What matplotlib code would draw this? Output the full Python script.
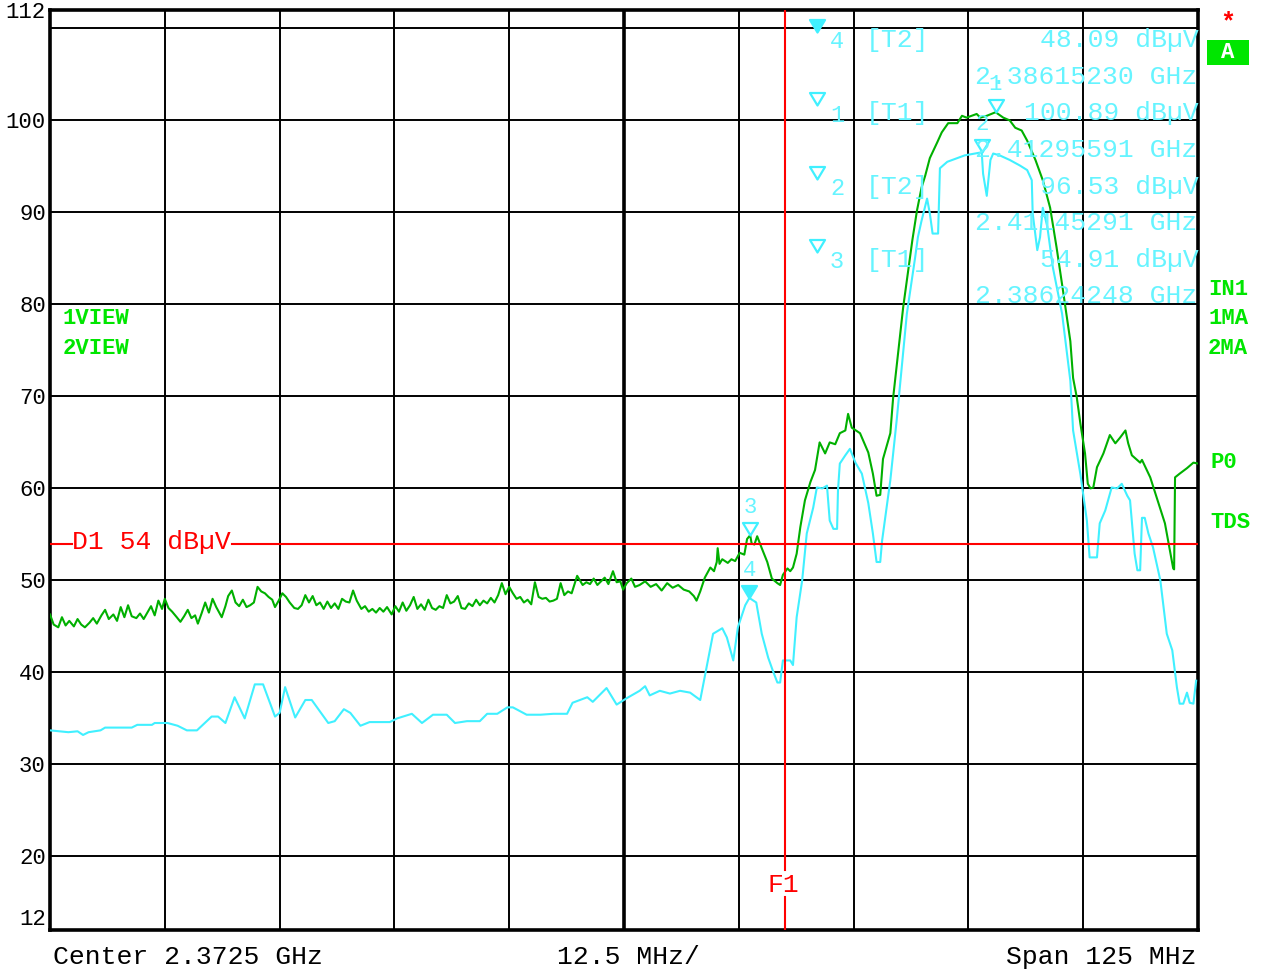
import numpy as np
import matplotlib.pyplot as plt
from matplotlib.path import Path
from matplotlib.patches import Rectangle

W, H = 1261, 972

CENTER_MHZ = 2372.5
SPAN_MHZ = 125.0
REF_TOP = 112
REF_BOTTOM = 12
D1_LEVEL = 54
F1_MHZ = 2390.0

# trace 1: max peak (green)
trace1_freq = [
    2310.0, 2310.4, 2310.9, 2311.3, 2311.7, 2312.1, 2312.6, 2313.0, 2313.4, 2313.8,
    2314.3, 2314.7, 2315.1, 2315.6, 2316.0, 2316.4, 2316.9, 2317.3, 2317.7, 2318.1,
    2318.5, 2318.9, 2319.4, 2319.8, 2320.2, 2320.6, 2321.0, 2321.4, 2321.8, 2322.2,
    2322.5, 2322.9, 2323.3, 2323.8, 2324.2, 2324.6, 2325.0, 2325.4, 2325.8, 2326.1,
    2326.5, 2326.9, 2327.3, 2327.7, 2328.1, 2328.7, 2329.1, 2329.4, 2329.8, 2330.2,
    2330.6, 2331.0, 2331.4, 2331.8, 2332.2, 2332.6, 2333.0, 2333.4, 2333.8, 2334.2,
    2334.5, 2334.9, 2335.3, 2335.7, 2336.1, 2336.6, 2337.0, 2337.4, 2337.8, 2338.2,
    2338.6, 2339.0, 2339.4, 2339.8, 2340.2, 2340.6, 2341.0, 2341.4, 2341.8, 2342.2,
    2342.6, 2343.0, 2343.4, 2343.9, 2344.3, 2344.7, 2345.1, 2345.5, 2345.9, 2346.3,
    2346.7, 2347.2, 2347.6, 2348.0, 2348.4, 2348.8, 2349.2, 2349.6, 2350.0, 2350.4,
    2350.8, 2351.2, 2351.6, 2352.0, 2352.4, 2352.8, 2353.2, 2353.6, 2354.0, 2354.4,
    2354.8, 2355.2, 2355.6, 2356.0, 2356.4, 2356.8, 2357.2, 2357.6, 2358.0, 2358.4,
    2358.8, 2359.2, 2359.6, 2360.0, 2360.4, 2360.8, 2361.2, 2361.6, 2362.0, 2362.4,
    2362.8, 2363.2, 2363.6, 2364.0, 2364.4, 2364.8, 2365.2, 2365.6, 2366.0, 2366.4,
    2366.8, 2367.4, 2368.0, 2368.4, 2368.8, 2369.2, 2369.6, 2370.0, 2370.4, 2370.8,
    2371.3, 2371.7, 2372.1, 2372.4, 2372.8, 2373.3, 2373.7,
    2374.2, 2374.8, 2375.4, 2376.0, 2376.6, 2377.2, 2377.8, 2378.4, 2379.0, 2379.6,
    2380.1, 2380.4, 2380.8, 2381.3, 2381.9, 2382.3, 2382.6, 2382.7, 2382.9, 2383.2,
    2383.8, 2384.2, 2384.6, 2385.1, 2385.6, 2385.9, 2386.24, 2386.4, 2386.7, 2387.0,
    2387.5, 2388.1, 2388.6, 2389.2, 2389.5, 2389.8, 2390.3, 2390.6, 2390.9, 2391.3,
    2391.7, 2392.2, 2392.8, 2393.3, 2393.8, 2394.4, 2394.9, 2395.5, 2396.0, 2396.6,
    2396.9, 2397.3, 2398.2, 2399.1, 2399.6, 2400.0, 2400.4, 2400.7, 2401.5, 2401.8,
    2402.9, 2403.9, 2404.4, 2404.9, 2405.3, 2405.8, 2406.6, 2407.1, 2407.8, 2408.8,
    2409.3, 2409.8, 2410.9, 2411.3, 2412.0, 2412.96, 2413.8, 2414.5, 2415.1, 2415.8,
    2416.4, 2417.3, 2418.1, 2418.9, 2419.6, 2420.3, 2421.1, 2421.4, 2421.8, 2422.2,
    2422.7, 2423.0, 2423.3, 2423.6, 2424.0, 2424.7, 2425.4, 2426.0, 2426.5, 2427.1,
    2427.4, 2427.8, 2428.7, 2428.9, 2429.8, 2430.5, 2431.4, 2432.0, 2432.3, 2432.4,
    2432.5, 2433.0, 2433.8, 2434.5, 2435.0,
]
trace1_level = [
    46.3, 45.2, 44.9, 46.0, 45.1, 45.6, 45.0, 45.8, 45.2, 44.9,
    45.4, 45.9, 45.3, 46.2, 46.8, 45.8, 46.3, 45.6, 47.1, 46.0,
    47.3, 46.1, 45.9, 46.4, 45.8, 46.5, 47.2, 46.2, 47.8, 46.9,
    48.0, 47.0, 46.6, 46.0, 45.5, 46.1, 46.8, 45.9, 46.2, 45.3,
    46.4, 47.6, 46.5, 48.0, 47.1, 46.0, 47.2, 48.3, 48.9, 47.6,
    47.2, 47.9, 47.1, 47.3, 47.6, 49.3, 48.8, 48.6, 48.2, 47.9,
    47.1, 47.8, 48.6, 48.2, 47.6, 47.0, 46.9, 47.3, 48.4, 47.6,
    48.3, 47.3, 47.6, 46.9, 47.7, 47.0, 47.5, 46.9, 48.0, 47.7,
    47.6, 48.9, 47.8, 46.9, 47.2, 46.6, 46.9, 46.5, 47.0, 46.6,
    47.1, 46.3, 47.2, 46.6, 47.6, 46.7, 47.3, 48.2, 46.9, 47.4,
    46.8, 47.9, 47.0, 46.8, 47.2, 47.0, 48.4, 47.5, 47.7, 48.3,
    47.0, 46.9, 47.5, 47.2, 47.9, 47.3, 47.8, 47.5, 48.1, 47.6,
    48.4, 49.7, 48.5, 49.3, 48.6, 48.0, 48.2, 47.6, 47.9, 47.4,
    49.8, 48.2, 48.0, 48.1, 47.7, 47.8, 48.0, 49.7, 48.4, 48.8,
    48.6, 50.5, 49.5, 49.8, 49.6, 50.2, 49.5, 49.9, 50.3, 49.6,
    51.0, 49.8, 49.9, 49.0, 49.7, 50.2, 49.3,
    49.5, 49.9, 49.3, 49.6, 48.9, 49.7, 49.2, 49.5, 49.0, 48.8,
    48.3, 47.8, 48.8, 50.3, 51.4, 51.0, 52.0, 53.5, 51.8, 52.3,
    51.9, 52.3, 52.1, 53.0, 52.8, 54.5, 54.91, 54.0, 53.9, 54.8,
    53.5, 52.0, 50.2, 49.7, 49.5, 50.6, 51.3, 51.0, 51.4, 52.9,
    55.8, 58.7, 60.7, 62.0, 65.0, 63.8, 65.0, 64.8, 66.0, 66.3,
    68.1, 66.6, 66.0, 63.9, 61.6, 59.2, 59.3, 63.2, 66.0, 69.8,
    79.7, 87.0, 90.2, 92.7, 94.0, 95.9, 97.6, 98.7, 99.7, 99.7,
    100.5, 100.3, 100.7, 100.3, 100.5, 100.89, 100.3, 100.0, 99.2, 98.9,
    97.8, 95.7, 93.5, 90.5, 86.2, 81.5, 76.0, 72.0, 69.9, 67.0,
    63.8, 60.5, 60.0, 60.1, 62.3, 63.8, 65.8, 64.9, 65.5, 66.3,
    64.9, 63.6, 62.8, 63.1, 61.2, 59.0, 56.2, 52.9, 51.3, 51.2,
    61.2, 61.6, 62.2, 62.8, 62.7,
]

# trace 2: average (cyan)
trace2_freq = [
    2310.0, 2311.0, 2312.0, 2313.0, 2313.6, 2314.2, 2315.5, 2316.0, 2318.9, 2319.5,
    2321.1, 2321.4, 2322.8, 2323.9, 2324.9, 2326.0, 2327.6, 2328.3, 2329.1, 2330.1,
    2331.2, 2332.3, 2333.2, 2334.5, 2335.0, 2335.6, 2336.7, 2337.8, 2338.5, 2340.3,
    2341.0, 2342.0, 2342.7, 2343.8, 2344.8, 2347.0, 2347.8, 2349.4, 2350.5, 2351.7,
    2353.2, 2354.1, 2355.4, 2356.8, 2357.6, 2358.7, 2359.8, 2360.4, 2361.9, 2363.4,
    2364.8, 2366.3, 2366.9, 2368.5, 2369.1, 2370.6, 2371.7, 2372.8, 2374.2, 2374.8,
    2375.3, 2376.4, 2377.5, 2378.6, 2379.7, 2380.8, 2382.2, 2383.2, 2383.7, 2384.4,
    2384.9, 2385.7, 2386.15, 2386.9, 2387.5, 2388.2, 2388.7, 2389.2, 2389.5, 2389.8,
    2390.6, 2390.9, 2391.3, 2391.9, 2392.4, 2393.1, 2393.5, 2394.1, 2394.6, 2394.9,
    2395.3, 2395.7, 2395.8, 2396.0, 2396.6, 2397.1, 2397.7, 2398.4, 2399.1, 2399.6,
    2400.0, 2400.4, 2400.6, 2400.9, 2401.5, 2402.2, 2403.3, 2404.2, 2404.5, 2404.9,
    2405.5, 2405.8, 2406.1, 2406.7, 2406.9, 2407.7, 2408.8, 2409.6, 2410.7, 2411.45,
    2411.6, 2412.0, 2412.4, 2412.7, 2413.4, 2414.5, 2415.6, 2416.4, 2416.9, 2417.0,
    2417.5, 2417.8, 2418.1, 2418.6, 2419.2, 2420.2, 2421.1, 2421.4, 2422.2, 2422.9,
    2423.2, 2424.0, 2424.3, 2424.9, 2425.6, 2426.2, 2426.7, 2427.3, 2427.6, 2428.1,
    2428.4, 2428.7, 2428.9, 2429.2, 2429.6, 2430.1, 2430.9, 2431.6, 2432.2, 2432.7,
    2433.0, 2433.4, 2433.8, 2434.1, 2434.5, 2434.8,
]
trace2_level = [
    33.7, 33.6, 33.5, 33.6, 33.2, 33.5, 33.7, 34.0, 34.0, 34.3,
    34.3, 34.5, 34.5, 34.2, 33.7, 33.7, 35.2, 35.2, 34.5, 37.3,
    35.0, 38.7, 38.7, 35.2, 35.6, 38.4, 35.1, 37.0, 37.0, 34.5,
    34.7, 36.0, 35.6, 34.2, 34.6, 34.6, 35.0, 35.5, 34.5, 35.4,
    35.4, 34.5, 34.7, 34.7, 35.5, 35.5, 36.2, 36.2, 35.4, 35.4,
    35.5, 35.5, 36.7, 37.3, 36.8, 38.3, 36.5, 37.2, 38.0, 38.5,
    37.5, 38.0, 37.7, 38.0, 37.8, 37.0, 44.2, 44.8, 43.8, 41.3,
    44.9, 47.3, 48.09, 47.6, 44.2, 41.6, 40.2, 38.9, 38.9, 41.3,
    41.3, 40.8, 46.0, 50.0, 55.1, 57.9, 60.1, 60.0, 60.3, 56.5,
    55.6, 55.6, 59.8, 62.7, 63.6, 64.3, 62.8, 61.6, 58.4, 55.1,
    52.0, 52.0, 54.3, 56.5, 60.9, 67.5, 79.0, 85.1, 87.3, 89.1,
    91.5, 89.9, 87.7, 87.7, 94.8, 95.5, 95.9, 96.2, 96.4, 96.53,
    94.2, 91.8, 95.7, 96.4, 96.2, 95.7, 95.1, 94.6, 93.5, 89.9,
    85.9, 87.3, 90.5, 88.4, 84.0, 79.0, 71.7, 66.3, 61.5, 56.5,
    52.5, 52.5, 56.2, 57.6, 60.1, 60.0, 60.5, 59.2, 58.7, 52.9,
    51.1, 51.1, 56.8, 56.8, 55.1, 53.6, 50.0, 44.2, 42.4, 38.4,
    36.6, 36.6, 37.8, 36.7, 36.6, 39.1,
]

# marker table, in the order the analyzer lists them
marker_ids = ["4", "1", "2", "3"]
marker_trace = ["T2", "T1", "T2", "T1"]
marker_level = [48.09, 100.89, 96.53, 54.91]
marker_freq_ghz = [2.38615230, 2.41295591, 2.41145291, 2.38624248]

GREEN = "#00b000"
GREEN_TXT = "#00e600"
CYAN = "#40f0ff"
CYAN_TXT = "#66f4ff"
RED = "#ff0000"
MONO = "Liberation Mono"


def fxy(px, py):
    return px / W, 1 - py / H


def main():
    fig = plt.figure(figsize=(W / 100, H / 100), dpi=100)
    ax = fig.add_axes([50 / W, 1 - 930 / H, 1148 / W, 920 / H])

    f0 = CENTER_MHZ - SPAN_MHZ / 2
    f1 = CENTER_MHZ + SPAN_MHZ / 2
    ax.set_xlim(f0, f1)
    ax.set_ylim(REF_BOTTOM, REF_TOP)

    # graticule
    for f in np.linspace(f0, f1, 11)[1:-1]:
        ax.axvline(f, color="black", lw=1.4, zorder=1)
    ax.axvline(CENTER_MHZ, color="black", lw=2.6, zorder=1)
    for lv in range(20, 111, 10):
        ax.axhline(lv, color="black", lw=1.4, zorder=1)

    ax.set_xticks([])
    ax.set_yticks([REF_BOTTOM] + list(range(20, 101, 10)) + [REF_TOP])
    ax.tick_params(axis="y", length=0, pad=3, labelsize=16)
    ylabels = ax.get_yticklabels()
    for lab in ylabels:
        lab.set_fontfamily(MONO)
    ylabels[0].set_verticalalignment("bottom")
    for sp in ax.spines.values():
        sp.set_linewidth(2.6)

    ax.plot(trace1_freq, trace1_level, color=GREEN, lw=1.5, zorder=3)
    ax.plot(trace2_freq, trace2_level, color=CYAN, lw=1.5, zorder=3)

    # display line D1, broken where its label sits
    ax.axhline(D1_LEVEL, xmax=(72 - 50) / 1148, color=RED, lw=1.5, zorder=4)
    ax.axhline(D1_LEVEL, xmin=(232 - 50) / 1148, color=RED, lw=1.5, zorder=4)
    fig.text(*fxy(72, 542), f"D1 {D1_LEVEL} dBµV", color=RED, fontsize=19,
             family=MONO, ha="left", va="center")

    # frequency line F1
    ax.axvline(F1_MHZ, ymin=(930 - 870) / 920, color=RED, lw=1.5, zorder=4)
    ax.axvline(F1_MHZ, ymax=(930 - 897) / 920, color=RED, lw=1.5, zorder=4)
    fig.text(*fxy(783, 885), "F1", color=RED, fontsize=19, family=MONO,
             ha="center", va="center")

    # marker triangles, apex on the trace
    tri = Path([(0, 0), (-0.6, 1), (0.6, 1), (0, 0)],
               [Path.MOVETO, Path.LINETO, Path.LINETO, Path.CLOSEPOLY])
    for i, mid in enumerate(marker_ids):
        fx = marker_freq_ghz[i] * 1000
        lv = marker_level[i]
        filled = (i == 0)
        ax.plot([fx], [lv], marker=tri, markersize=18, ls="none",
                markerfacecolor=CYAN if filled else "none",
                markeredgecolor=CYAN, markeredgewidth=1.6, zorder=5)
        ax.annotate(mid, (fx, lv), xytext=(0, 20), textcoords="offset points",
                    ha="center", va="center", color=CYAN_TXT, fontsize=16,
                    family=MONO, zorder=5)

    # marker table
    for i, mid in enumerate(marker_ids):
        y_val = 40 + i * 73.3
        y_frq = y_val + 36.5
        tx, ty = fxy(817, y_val - 8)
        ax.plot([tx], [ty], marker=tri, markersize=18, ls="none",
                transform=fig.transFigure, clip_on=False,
                markerfacecolor=CYAN if i == 0 else "none",
                markeredgecolor=CYAN, markeredgewidth=1.6)
        fig.text(*fxy(830, y_val + 2), mid, color=CYAN_TXT, fontsize=17,
                 family=MONO, ha="left", va="center")
        fig.text(*fxy(866, y_val), f"[{marker_trace[i]}]", color=CYAN_TXT,
                 fontsize=19, family=MONO, ha="left", va="center")
        fig.text(*fxy(1199, y_val), f"{marker_level[i]:.2f} dBµV", color=CYAN_TXT,
                 fontsize=19, family=MONO, ha="right", va="center")
        fig.text(*fxy(1197, y_frq), f"{marker_freq_ghz[i]:.8f} GHz", color=CYAN_TXT,
                 fontsize=19, family=MONO, ha="right", va="center")

    # side annotations
    for txt, px, py in [("1VIEW", 63, 319), ("2VIEW", 63, 349),
                        ("IN1", 1208, 289), ("1MA", 1208, 319), ("2MA", 1208, 349),
                        ("P0", 1210, 463), ("TDS", 1210, 523)]:
        fig.text(*fxy(px, py), txt, color=GREEN_TXT, fontsize=16, family=MONO,
                 weight="bold", ha="left", va="center")

    fig.text(*fxy(1228, 22), "*", color=RED, fontsize=18, family=MONO,
             weight="bold", ha="center", va="center")
    bx, by = fxy(1207, 65)
    fig.add_artist(Rectangle((bx, by), 42 / W, 25 / H, transform=fig.transFigure,
                             facecolor="#00e600", edgecolor="none"))
    fig.text(*fxy(1228, 52), "A", color="white", fontsize=16, family=MONO,
             weight="bold", ha="center", va="center")

    # bottom annotation line
    fig.text(*fxy(53, 957), f"Center {CENTER_MHZ / 1000:.4f} GHz", fontsize=19,
             family=MONO, ha="left", va="center")
    fig.text(*fxy(557, 957), f"{SPAN_MHZ / 10:.1f} MHz/", fontsize=19,
             family=MONO, ha="left", va="center")
    fig.text(*fxy(1196, 957), f"Span {SPAN_MHZ:.0f} MHz", fontsize=19,
             family=MONO, ha="right", va="center")

    fig.savefig("out.png", dpi=100)


if __name__ == '__main__':
    main()
